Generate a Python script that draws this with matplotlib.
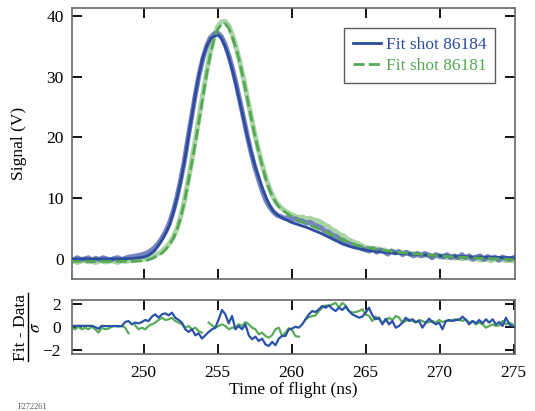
import numpy as np
import matplotlib
matplotlib.use('Agg')
import matplotlib.pyplot as plt
from matplotlib.lines import Line2D

plt.rcParams['font.family'] = ['Liberation Serif', 'DejaVu Serif']
plt.rcParams['mathtext.fontset'] = 'stix'

# fit curves (Signal in V), sampled on an uneven time grid (ns)
t_fit = np.r_[245:249.1:1, 249.5, np.arange(250, 260.01, 0.25),
              np.arange(260.5, 265.01, 0.5), np.arange(266, 275.1, 1)]

fit_86184 = [0.0, 0.0, 0.0, 0.0, 0.05, 0.15,
             0.3, 0.5, 0.9, 1.4, 2.2, 3.2, 4.3, 5.6, 7.6, 10.0,
             12.8, 16.0, 19.8, 23.5, 27.2, 30.5, 33.2, 35.0, 36.2, 36.6,
             36.9, 36.3, 35.0, 33.2, 31.0, 28.5, 25.8, 23.0, 20.2, 17.7,
             15.5, 13.6, 11.8, 10.2, 8.9, 7.9, 7.3, 6.9, 6.6, 6.3,
             6.0,
             5.6, 5.2, 4.7, 4.2, 3.6, 3.0, 2.4, 2.0, 1.7, 1.45,
             1.15, 0.95, 0.8, 0.65, 0.55, 0.45, 0.35, 0.3, 0.25, 0.2]

fit_86181 = [-0.4, -0.4, -0.4, -0.4, -0.4, -0.35,
             -0.3, -0.2, 0.0, 0.3, 0.6, 1.0, 1.6, 2.4, 3.4, 4.8,
             6.8, 9.4, 12.6, 15.8, 19.2, 22.9, 26.7, 30.4, 33.6, 36.1,
             37.8, 38.6, 38.7, 38.0, 36.4, 34.6, 32.2, 29.4, 26.4, 23.4,
             20.4, 17.8, 15.4, 13.2, 11.4, 10.0, 9.0, 8.3, 7.8, 7.4,
             7.0,
             6.3, 5.8, 5.3, 4.8, 4.2, 3.6, 3.1, 2.6, 2.2, 1.9,
             1.5, 1.15, 0.9, 0.7, 0.5, 0.35, 0.2, 0.1, 0.0, -0.1]

# measured data, every 0.25 ns from 245 to 275
t_data = np.arange(245, 275.01, 0.25)

data_86184 = [0.1, -0.2, 0.2, -0.1, 0.0, 0.2, -0.3, 0.1, -0.1, 0.2, 0.0, -0.2, 0.1, 0.2, -0.1, 0.1, 0.3,
              0.4, 0.5, 0.6,
              0.8, 1.0, 1.4, 1.9, 2.6, 3.5, 4.6, 6.0, 7.9, 10.2, 13.0, 16.2,
              20.0, 23.6, 27.2, 30.4, 33.0, 35.0, 36.4, 37.0, 37.2, 36.6, 35.3, 33.5,
              31.3, 28.8, 26.0, 23.2, 20.3, 17.6, 15.2, 13.2, 11.3, 9.7, 8.6, 7.8,
              7.2, 7.0, 6.7, 6.8, 6.5, 6.6, 6.3, 6.2, 5.9, 6.0, 5.6, 5.4,
              5.1, 4.6, 4.4, 3.9, 3.7, 3.2, 3.0, 2.6, 2.4, 2.0, 2.0, 1.7, 1.5,
              1.3, 1.7, 1.1, 1.5, 1.2, 0.8, 1.3, 1.0, 1.2, 0.7, 1.1, 0.8, 0.5, 0.9, 0.5, 0.9,
              0.6, 0.2, 0.7, 0.5, 0.3, 0.7, 0.2, 0.5, 0.2, 0.7, 0.2, 0.5, 0.0, 0.3, 0.5, -0.1,
              0.4, 0.1, 0.3, -0.2, 0.3, 0.1, -0.1, 0.2]

data_86181 = [-0.5, -0.3, -0.6, -0.4, -0.2, -0.5, -0.4, -0.6, -0.3, -0.4, -0.5, -0.3, -0.4, -0.6, -0.3, -0.4, -0.3,
              -0.3, -0.2, -0.1,
              0.0, 0.1, 0.3, 0.6, 0.9, 1.3, 1.9, 2.6, 3.6, 5.0, 7.0, 9.6,
              12.8, 16.2, 19.8, 23.4, 27.2, 30.8, 34.0, 36.6, 38.2, 39.0, 39.1, 38.4,
              36.8, 34.8, 32.4, 29.6, 26.6, 23.6, 20.6, 18.0, 15.6, 13.4, 11.6, 10.2,
              9.2, 8.5, 8.0, 7.6, 7.3, 7.0, 6.8, 6.9, 6.6, 6.7, 6.4, 6.3,
              6.0, 5.6, 5.3, 4.8, 4.5, 4.0, 3.8, 3.3, 3.0, 2.7, 2.5, 2.2, 1.9,
              1.8, 1.6, 1.7, 1.4, 1.5, 1.2, 1.3, 1.0, 1.2, 0.9, 1.0, 0.8, 0.9, 0.6, 0.8, 0.5,
              0.7, 0.4, 0.6, 0.3, 0.5, 0.2, 0.4, 0.1, 0.3, 0.0, 0.2, 0.1, -0.1, 0.1, -0.2, 0.0,
              -0.1, -0.3, 0.0, -0.2, -0.1, -0.3, -0.2, -0.3]

# normalised residuals (Fit - Data)/sigma
t_res = np.linspace(245.13, 274.94, 133)
nan = np.nan

res_86184 = [0.10, 0.10, 0.10, 0.10, 0.10, 0.10, 0.10, 0.00, -0.15, 0.10,
             0.08, 0.08, 0.08, 0.08, 0.08, 0.08, 0.43, 0.52, 0.23, 0.38,
             0.32, 0.43, 0.61, 0.52, 0.90, 1.10, 0.81, 1.10, 1.19, 1.01,
             1.25, 0.81, 0.61, 0.38, -0.20, -0.43, -0.20, -0.72, -0.55, -1.01,
             -0.72, -0.43, -0.20, -0.06, 0.67, 1.48, 1.10, 0.32, 0.96, -0.20,
             0.09, -0.20, 0.23, -0.72, -1.07, -0.84, -1.22, -1.01, -1.51, -1.65,
             -1.30, -1.59, -1.01, -0.78, -0.78, -0.20, -0.14, 0.03,
             -0.06, 0.23, 0.67, 1.10, 1.39, 1.30, 1.54, 1.83, 1.68, 1.88,
             1.59, 1.39, 1.68, 1.48, 1.77, 1.39, 1.10, 0.96, 0.81, 0.90,
             1.25, 1.68, 1.01, 0.67, 0.81, 0.23, 0.72, 0.23, 0.52, -0.06,
             0.09, 0.38, 0.81, 0.52, 0.67, 0.43, 0.52, -0.06, 0.38, 0.72,
             0.43, 0.23, 0.38, -0.20, 0.52, 0.61, 0.52, 0.61, 0.61, 0.90,
             0.61, 0.23, 0.52, 0.32, 0.61, 0.32, 0.67, 0.38, 0.67, 0.23,
             0.43, 0.09, 0.81, 0.23, 0.09]

res_86181 = [-0.06, -0.20, 0.03, -0.20, -0.06, -0.20, 0.03, -0.20, -0.49, -0.06,
             -0.20, -0.14, 0.03, 0.09, 0.03, 0.09, -0.06, -0.55, nan, 0.14,
             -0.20, -0.06, -0.20, 0.09, 0.23, 0.38, 0.61, 0.81, 0.61, 0.67,
             0.81, 0.52, 0.38, 0.23, -0.06, 0.09, -0.20, -0.06, -0.35, -0.49,
             nan, 0.38, 0.14, -0.06, 0.09, 0.23, 0.09, -0.20, -0.06, -0.06,
             0.23, 0.09, 0.43, 0.23, -0.06, -0.20, -0.64, -0.49, -0.78, -0.93,
             -0.72, -0.20, -0.06, -0.78, -0.49, -0.10, -0.30, -0.80,
             -0.85, nan, 0.67, 0.85, 0.95, 1.00, 1.39, 1.68, 1.88, 1.83,
             1.97, 2.10, 1.68, 2.10, 1.88, 1.39, 1.25, 1.30, 1.39, 1.54,
             1.10, 0.96, 0.52, 0.90, 0.67, 0.38, 0.52, 0.81, 0.61, 0.96,
             0.81, 0.38, 0.52, 0.67, 0.52, 0.38, 0.61, 0.52, 0.38, 0.43,
             0.52, 0.38, 0.61, 0.43, 0.52, 0.52, 0.61, 0.67, 0.67, 0.52,
             0.67, 0.38, 0.52, 0.23, 0.38, 0.23, -0.06, 0.09, 0.23, 0.09,
             0.14, 0.52, 0.23, 0.38, 0.23]

c_blue = '#2b4c9f'
c_blue_band = '#5e6fb6'
c_green = '#55a955'
c_green_band = '#a9d4a5'
fs = 12.5

fig = plt.figure(figsize=(5.35, 4.11), dpi=100)
ax = fig.add_axes([0.1346, 0.3212, 0.828, 0.6594])
axr = fig.add_axes([0.1346, 0.1387, 0.828, 0.1314])

# main panel
ax.plot(t_data, data_86181, color=c_green_band, lw=3.6, solid_joinstyle='round', zorder=1)
ax.plot(t_data, data_86184, color=c_blue_band, lw=3.6, alpha=0.85, solid_joinstyle='round', zorder=2)
ax.plot(t_fit, fit_86184, color=c_blue, lw=2, label='Fit shot 86184', zorder=3)
ax.plot(t_fit, fit_86181, color=c_green, lw=2, ls=(0, (4, 1.5)), label='Fit shot 86181', zorder=4)

ax.set_xlim(245.15, 275.1)
ax.set_ylim(-3.3, 41.3)
ax.set_xticks([250, 255, 260, 265, 270])
ax.set_yticks([0, 10, 20, 30, 40])
ax.tick_params(axis='both', direction='in', length=7, width=1.3, top=True, right=True,
               labelsize=fs, pad=6)
ax.tick_params(axis='x', labelbottom=False)
ax.set_ylabel('Signal (V)', fontsize=fs)
ax.yaxis.set_label_coords(-0.102, 0.5)

leg = ax.legend(loc='upper right', bbox_to_anchor=(0.955, 0.926), borderaxespad=0,
                fontsize=fs, frameon=True, fancybox=False, edgecolor='#333333',
                handlelength=1.6, handletextpad=0.3, labelspacing=0.3,
                borderpad=0.5, labelcolor='linecolor')
leg.get_frame().set_linewidth(1.0)

# residual panel
axr.plot(t_res, res_86181, color='#5aab5a', lw=1.6)
axr.plot(t_res, res_86184, color='#2a52a8', lw=1.6)
axr.set_xlim(245.15, 275.1)
axr.set_ylim(-2.35, 2.35)
axr.set_xticks([250, 255, 260, 265, 270, 275])
axr.set_yticks([-2, 0, 2])
axr.set_yticklabels(['\u22122', '0', '2'])
axr.tick_params(axis='both', direction='in', length=7, width=1.3, top=True, right=True,
                labelsize=fs)
axr.tick_params(axis='x', pad=8)
axr.tick_params(axis='y', pad=8)
axr.set_xlabel('Time of flight (ns)', fontsize=fs, labelpad=1)

# (Fit - Data) / sigma written as a vertical fraction
W, H = 535.0, 411.0
fig.text(21 / W, 1 - 327 / H, 'Fit - Data', rotation=90, fontsize=fs,
         ha='center', va='center')
fig.add_artist(Line2D([28 / W, 28 / W], [1 - 293 / H, 1 - 361 / H],
                      color='black', lw=1.0))
fig.text(35.5 / W, 1 - 327 / H, r'$\sigma$', rotation=90, fontsize=fs,
         ha='center', va='center')

for a in (ax, axr):
    for s in a.spines.values():
        s.set_color('#666666')
        s.set_linewidth(1.2)

fig.text(0.034, 0.0, 'F272261', fontsize=6, color='#555555', va='bottom')

fig.savefig('out.png', dpi=100)
